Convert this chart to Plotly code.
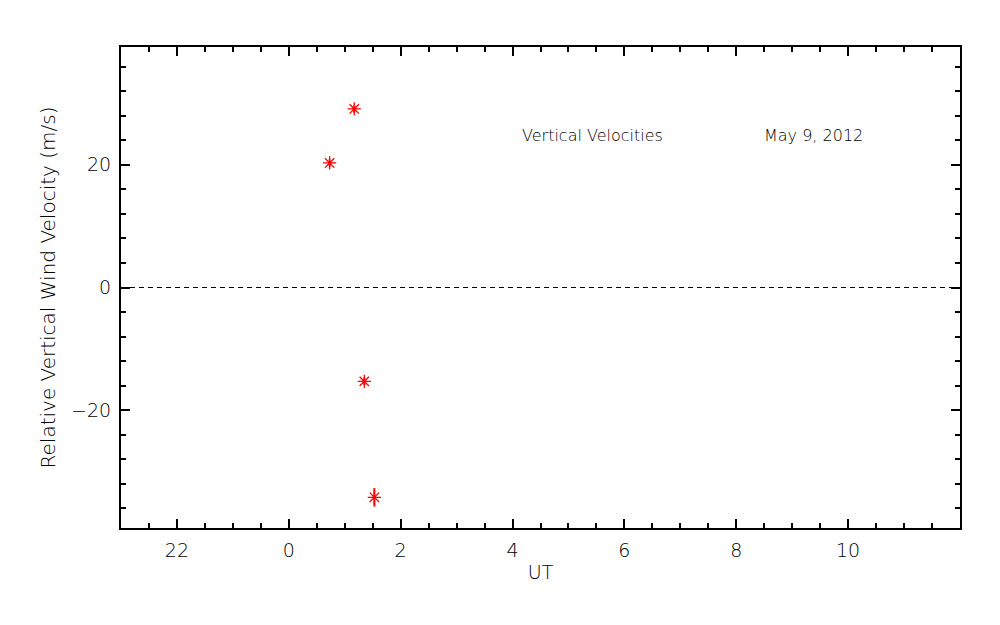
import plotly.graph_objects as go

ut_hours = [0.73, 1.17, 1.35, 1.53]
velocity = [20.3, 29.1, -15.3, -34.2]
velocity_err = [0.6, 0.6, 0.6, 1.5]

x_tickvals = [-2, 0, 2, 4, 6, 8, 10]
x_ticktext = ["22", "0", "2", "4", "6", "8", "10"]
y_tickvals = [-20, 0, 20]
y_ticktext = ["\u221220", "0", "20"]

title_left = "Vertical Velocities"
title_right = "May 9, 2012"

FONT = "DejaVu Sans"
W = 200  # light weight to mimic thin stroke font

fig = go.Figure()
fig.add_trace(go.Scatter(
    x=ut_hours, y=velocity, mode="markers",
    marker=dict(symbol="asterisk-open", size=11, color="red",
                line=dict(color="red", width=1.3)),
    error_y=dict(type="data", array=velocity_err, color="red", width=0, thickness=2),
    showlegend=False,
))

fig.add_shape(type="line", xref="paper", x0=0, x1=1, yref="y", y0=0, y1=0,
              line=dict(color="black", width=1, dash="5px,4px"))

axis_common = dict(showgrid=False, zeroline=False, showline=True, linecolor="black",
                   linewidth=2, mirror="allticks", ticks="inside", ticklen=9,
                   tickwidth=1.5, tickcolor="black",
                   tickfont=dict(family=FONT, size=19, color="black", weight=W))

fig.update_xaxes(range=[-3, 12], tickvals=x_tickvals, ticktext=x_ticktext,
                 ticklabelstandoff=4,
                 minor=dict(dtick=0.5, tick0=0, ticks="inside", ticklen=5, tickwidth=1.5,
                            tickcolor="black"),
                 title=dict(text="UT", font=dict(family=FONT, size=19, color="black", weight=W),
                            standoff=6),
                 **axis_common)
fig.update_yaxes(range=[-39.2, 39.2], tickvals=y_tickvals, ticktext=y_ticktext,
                 ticklabelstandoff=4,
                 minor=dict(dtick=4, tick0=0, ticks="inside", ticklen=5, tickwidth=1.5,
                            tickcolor="black"),
                 title=dict(text="Relative Vertical Wind Velocity (m/s)",
                            font=dict(family=FONT, size=20, color="black", weight=W),
                            standoff=10),
                 **axis_common)

fig.add_annotation(x=4.13, y=24.8, xref="x", yref="y", text=title_left, showarrow=False,
                   xanchor="left", font=dict(family=FONT, size=16, color="black", weight=W))
fig.add_annotation(x=8.46, y=24.8, xref="x", yref="y", text=title_right, showarrow=False,
                   xanchor="left", font=dict(family=FONT, size=16, color="black", weight=W))

fig.update_layout(width=1000, height=625, paper_bgcolor="white", plot_bgcolor="white",
                  margin=dict(l=113, r=48, t=39, b=105))

fig.write_html("out.html")
